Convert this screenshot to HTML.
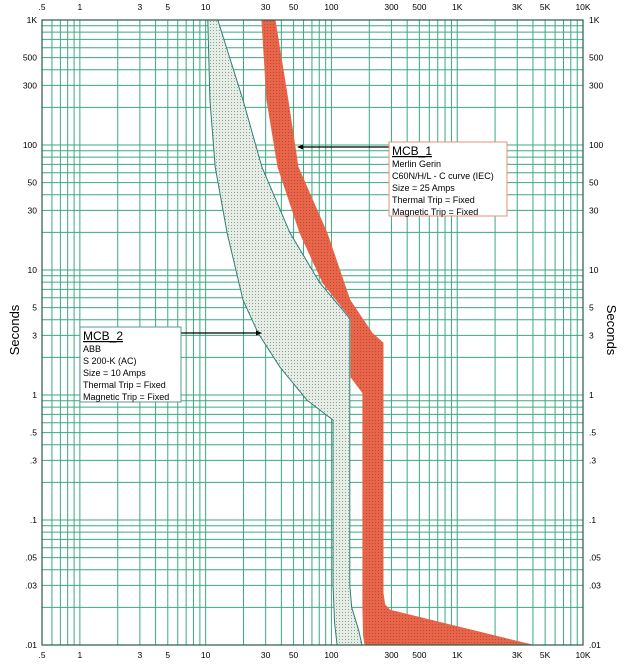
<!DOCTYPE html>
<html><head><meta charset="utf-8"><style>
html,body{margin:0;padding:0;background:#fff;}
svg{display:block;font-family:"Liberation Sans",Arial,sans-serif;}
</style></head><body>
<svg id="chart" width="626" height="664" viewBox="0 0 626 664" xmlns="http://www.w3.org/2000/svg">
<defs>
<pattern id="dotG" width="3" height="3" patternUnits="userSpaceOnUse"><rect width="3" height="3" fill="#e6ece6"/><rect width="1" height="1" fill="#8fa090"/></pattern>
<pattern id="dotR" width="3" height="3" patternUnits="userSpaceOnUse"><rect width="3" height="3" fill="#e8654a"/><rect width="1" height="1" fill="#b84a35"/></pattern>
</defs>
<g id="grid"></g>
<g id="curves"></g>
<g id="labels"></g>
<rect x="42" y="20" width="541" height="625" fill="none" stroke="#2a5a4a" stroke-width="1.2"/>
<text x="19" y="330" font-size="13" text-anchor="middle" transform="rotate(-90 19 330)">Seconds</text>
<text x="607" y="330" font-size="13" text-anchor="middle" transform="rotate(90 607 330)">Seconds</text>
<g>
<line x1="389" y1="147" x2="299" y2="147" stroke="#000" stroke-width="1.2"/>
<path d="M297 147 L303 144.5 L303 149.5 Z" fill="#000"/>
<rect x="389" y="142" width="118" height="74" fill="#fff" stroke="#e0907a" stroke-width="1"/>
<text x="392" y="155" font-size="12" text-decoration="underline">MCB_1</text>
<text x="392" y="167" font-size="9">Merlin Gerin</text>
<text x="392" y="179" font-size="9">C60N/H/L - C curve (IEC)</text>
<text x="392" y="191" font-size="9">Size = 25 Amps</text>
<text x="392" y="203" font-size="9">Thermal Trip = Fixed</text>
<text x="392" y="215" font-size="9">Magnetic Trip = Fixed</text>
</g>
<g>
<line x1="181" y1="333" x2="260" y2="333" stroke="#000" stroke-width="1.2"/>
<path d="M262 333 L256 330.5 L256 335.5 Z" fill="#000"/>
<rect x="80" y="327" width="101" height="75" fill="#fff" stroke="#5a9a9a" stroke-width="1"/>
<text x="83" y="340" font-size="12" text-decoration="underline">MCB_2</text>
<text x="83" y="352" font-size="9">ABB</text>
<text x="83" y="364" font-size="9">S 200-K (AC)</text>
<text x="83" y="376" font-size="9">Size = 10 Amps</text>
<text x="83" y="388" font-size="9">Thermal Trip = Fixed</text>
<text x="83" y="400" font-size="9">Magnetic Trip = Fixed</text>
</g>
</svg>
<script>
const xTickVals=[0.5,1,3,5,10,30,50,100,300,500,1000,3000,5000,10000];
const xTickLabels=[".5","1","3","5","10","30","50","100","300","500","1K","3K","5K","10K"];
const yTickVals=[0.01,0.03,0.05,0.1,0.3,0.5,1,3,5,10,30,50,100,300,500,1000];
const yTickLabels=[".01",".03",".05",".1",".3",".5","1","3","5","10","30","50","100","300","500","1K"];
const mcb2Current=[10.4,10.8,11.9,14.8,19.8,26.1,39,63.9,103,103,106,111,175,165,145,140,140,81,46.8,28,19.8,12.5];
const mcb2Time=[1000,229,66.7,19.8,5.75,3.13,1.67,0.91,0.63,0.03,0.015,0.01,0.01,0.013,0.02,0.03,4.1,7.87,19.8,66.7,229,1000];
const mcb1Current=[28,30.7,37.6,56.2,85.7,143,143,178,178,180,185,3930,292,265,257,257,210,140,92,54.2,45.1,35.6];
const mcb1Time=[1000,229,66.7,19.8,7.87,4.1,1.39,1.04,0.02,0.012,0.01,0.01,0.019,0.021,0.026,2.6,3.13,5.75,19.8,66.7,229,1000];
const X0=42,X1=583,Y0=645,Y1=20,XMIN=0.5,XMAX=10000,YMIN=0.01,YMAX=1000;
function sx(v){return X0+(Math.log10(v)-Math.log10(XMIN))/(Math.log10(XMAX)-Math.log10(XMIN))*(X1-X0);}
function sy(v){return Y0-(Math.log10(v)-Math.log10(YMIN))/(Math.log10(YMAX)-Math.log10(YMIN))*(Y0-Y1);}
const NS="http://www.w3.org/2000/svg";
function mk(t,a,p){const e=document.createElementNS(NS,t);for(const k in a)e.setAttribute(k,a[k]);p.appendChild(e);return e;}
const grid=document.getElementById('grid');
for(let d=-1;d<4;d++)for(let m=1;m<10;m++){const v=m*Math.pow(10,d);if(v<XMIN||v>XMAX)continue;
 const l=mk('line',{x1:sx(v),x2:sx(v),y1:Y1,y2:Y0,stroke:'#3aaa80','stroke-width':1},grid);
 
 }
for(let d=-2;d<3;d++)for(let m=1;m<10;m++){const v=m*Math.pow(10,d);if(v<YMIN||v>YMAX)continue;
 const l=mk('line',{x1:X0,x2:X1,y1:sy(v),y2:sy(v),stroke:'#3aaa80','stroke-width':1},grid);
 
 }
const curves=document.getElementById('curves');
function poly(xs,ys,fill,stroke,name){const pts=xs.map((x,i)=>sx(x).toFixed(1)+','+sy(ys[i]).toFixed(1)).join(' ');
 const p=mk('polygon',{points:pts,fill:fill,stroke:stroke,'stroke-width':1},curves);
 
 }
poly(mcb2Current,mcb2Time,'url(#dotG)','#2f7f7a','mcb2-trip-band');
poly(mcb1Current,mcb1Time,'url(#dotR)','#e8654a','mcb1-trip-band');
const labels=document.getElementById('labels');
xTickVals.forEach((v,i)=>{[10,658].forEach((y,j)=>{const t=mk('text',{x:sx(v),y:y,'font-size':8.5,'text-anchor':'middle'},labels);t.textContent=xTickLabels[i];
 
 });});
yTickVals.forEach((v,i)=>{const a=mk('text',{x:37,y:sy(v)+3,'font-size':8.5,'text-anchor':'end'},labels);a.textContent=yTickLabels[i];
 
 
 const b=mk('text',{x:589,y:sy(v)+3,'font-size':8.5,'text-anchor':'start'},labels);b.textContent=yTickLabels[i];
 
 });
</script>
</body></html>
